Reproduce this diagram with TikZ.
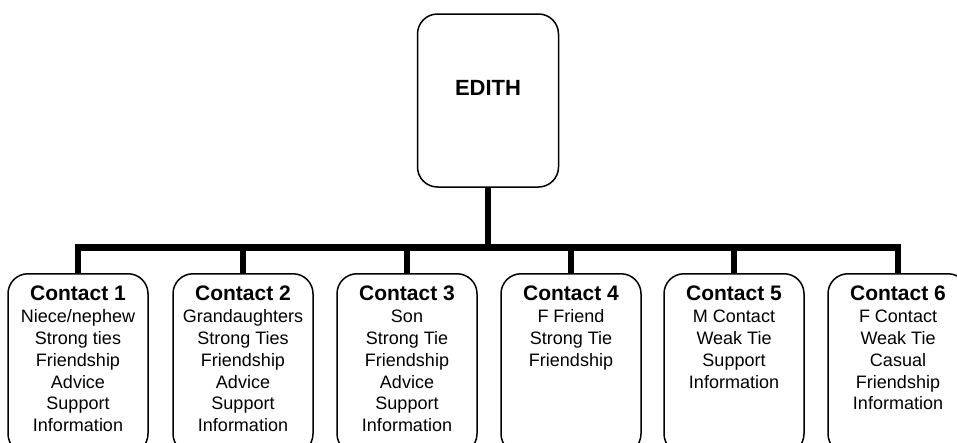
\documentclass[tikz,border=0pt]{standalone}
\usepackage{fontspec}
\setmainfont{Liberation Sans}
% heading line of a contact box
\newcommand\ctitle[1]{{\bfseries\fontsize{21}{21.8}\selectfont #1}}
\begin{document}
\begin{tikzpicture}[x=1pt,y=-1pt,
  box/.style={draw=black,line width=1.5pt,rounded corners=20pt,fill=white,inner sep=0pt},
  rootbox/.style={box,minimum width=141pt,minimum height=173pt},
  contact/.style={box,minimum width=140pt,minimum height=180pt,anchor=north},
  info/.style={align=center,inner sep=0pt,anchor=north,
    font=\fontsize{18}{21.8}\selectfont},
  tree/.style={line width=6.5pt,draw=black}]
\useasboundingbox (0,0) rectangle (957,442);
\clip (0,0) rectangle (957,442);

% root of the tree
\node[rootbox] (edith) at (488,100.5) {};
\node[inner sep=0pt,font=\bfseries\fontsize{22}{26}\selectfont] (edithname) at (488,88) {EDITH};

% the six contacts
\node[contact] (c1) at (78,273) {};
\node[contact] (c2) at (243,273) {};
\node[contact] (c3) at (407,273) {};
\node[contact] (c4) at (571,273) {};
\node[contact] (c5) at (734,273) {};
\node[contact] (c6) at (898,273) {};

\node[info] (t1) at ([yshift=-13pt]c1.north) {\ctitle{Contact 1}\\Niece/nephew\\Strong ties\\Friendship\\Advice\\Support\\Information};
\node[info] (t2) at ([yshift=-13pt]c2.north) {\ctitle{Contact 2}\\Grandaughters\\Strong Ties\\Friendship\\Advice\\Support\\Information};
\node[info] (t3) at ([yshift=-13pt]c3.north) {\ctitle{Contact 3}\\Son\\Strong Tie\\Friendship\\Advice\\Support\\Information};
\node[info] (t4) at ([yshift=-13pt]c4.north) {\ctitle{Contact 4}\\F Friend\\Strong Tie\\Friendship};
\node[info] (t5) at ([yshift=-13pt]c5.north) {\ctitle{Contact 5}\\M Contact\\Weak Tie\\Support\\Information};
\node[info] (t6) at ([yshift=-13pt]c6.north) {\ctitle{Contact 6}\\F Contact\\Weak Tie\\Casual\\Friendship\\Information};

% connectors
\coordinate (bus) at (488,247.5);
\draw[tree] (edith.south) -- (edith.south |- bus);
\draw[tree] (c1.north) |- (c6.north |- bus) -- (c6.north);
\foreach \c in {c2,c3,c4,c5}
  \draw[tree] (\c.north) -- (\c.north |- bus);
\end{tikzpicture}
\end{document}
